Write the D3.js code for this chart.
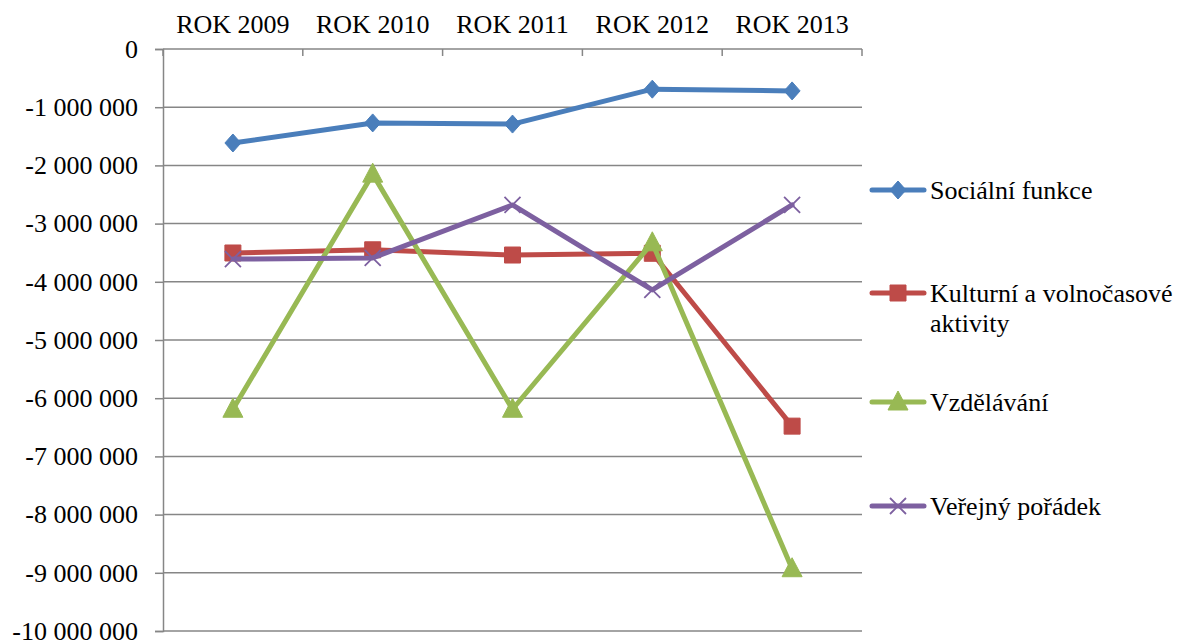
<!DOCTYPE html>
<html>
<head>
<meta charset="utf-8">
<script src="https://cdn.jsdelivr.net/npm/d3@7"></script>
<style>
  body { margin: 0; background: #fff; }
  svg text { font-family: "Liberation Serif", "Times New Roman", serif; fill: #000; }
</style>
</head>
<body>
<div id="chart"></div>
<script>
let years = ["ROK 2009", "ROK 2010", "ROK 2011", "ROK 2012", "ROK 2013"]
let yTicks = [0, -1000000, -2000000, -3000000, -4000000, -5000000, -6000000, -7000000, -8000000, -9000000, -10000000]

let socialni = [-1615000, -1270000, -1290000, -690000, -720000]
let kulturni = [-3505000, -3450000, -3540000, -3510000, -6480000]
let vzdelavani = [-6190000, -2150000, -6190000, -3330000, -8930000]
let verejny = [-3610000, -3590000, -2680000, -4140000, -2680000]

let seriesNames = ["Sociální funkce", "Kulturní a volnočasové aktivity", "Vzdělávání", "Veřejný pořádek"]
let seriesColors = ["#4A7EBB", "#BE4B48", "#98B954", "#7D60A0"]
let seriesMarkers = ["diamond", "square", "triangle", "cross"]

let width = 1179, height = 644
let plotLeft = 163, plotRight = 862, plotTop = 49, plotBottom = 631

let series = [socialni, kulturni, vzdelavani, verejny].map(function(vals, i){
  return { name: seriesNames[i], color: seriesColors[i], marker: seriesMarkers[i], values: vals }
})

let svg = d3.select("#chart").append("svg")
  .attr("width", width)
  .attr("height", height)

let x = d3.scaleBand().domain(years).range([plotLeft, plotRight])
let y = d3.scaleLinear().domain([-10000000, 0]).range([plotBottom, plotTop])

let fmt = function(v){
  return d3.format(",")(v).replace(/,/g, " ").replace("−", "-")
}

// gridlines
svg.append("g")
  .selectAll("line")
  .data(yTicks)
  .enter().append("line")
  .attr("x1", plotLeft).attr("x2", plotRight)
  .attr("y1", function(d){ return y(d) })
  .attr("y2", function(d){ return y(d) })
  .attr("stroke", "#868686")
  .attr("stroke-width", 1.5)

// y axis
let yAxis = svg.append("g")
  .attr("transform", "translate(" + plotLeft + ",0)")
  .call(d3.axisLeft(y).tickValues(yTicks).tickSize(8).tickPadding(17).tickFormat(fmt))
yAxis.attr("font-family", null)
yAxis.select(".domain").attr("stroke", "#868686").attr("stroke-width", 1.5)
yAxis.selectAll(".tick line").attr("stroke", "#868686").attr("stroke-width", 1.5)
yAxis.selectAll("text").style("font-size", "26px").attr("fill", "#000")

// x axis at top (zero line), labels above
let xAxis = svg.append("g")
  .attr("transform", "translate(0," + plotTop + ")")
  .call(d3.axisTop(x).tickSize(0).tickPadding(16))
xAxis.attr("font-family", null)
xAxis.select(".domain").remove()
xAxis.selectAll("text").style("font-size", "26px").attr("fill", "#000")

// tick marks between categories, pointing down
let bounds = years.map(function(d){ return x(d) }).concat([plotRight])
svg.append("g")
  .selectAll("line")
  .data(bounds)
  .enter().append("line")
  .attr("x1", function(d){ return d }).attr("x2", function(d){ return d })
  .attr("y1", plotTop).attr("y2", plotTop + 7)
  .attr("stroke", "#868686")
  .attr("stroke-width", 1.5)

function markerPath(type){
  if (type == "diamond") return "M0,-9L8,0L0,9L-8,0Z"
  if (type == "square") return "M-8,-8H8V8H-8Z"
  if (type == "triangle") return "M0,-11L10,8H-10Z"
  return "M-8,-8L8,8M-8,8L8,-8"
}

function drawMarker(g, s){
  if (s.marker == "cross"){
    g.append("path").attr("d", markerPath(s.marker))
      .attr("fill", "none").attr("stroke", s.color).attr("stroke-width", 1.8)
  } else {
    g.append("path").attr("d", markerPath(s.marker))
      .attr("fill", s.color).attr("stroke", s.color).attr("stroke-width", 1)
  }
}

let line = d3.line()
  .x(function(d, i){ return x(years[i]) + x.bandwidth() / 2 })
  .y(function(d){ return y(d) })

let plot = svg.append("g")

series.forEach(function(s){
  let g = plot.append("g")
  g.append("path")
    .datum(s.values)
    .attr("d", line)
    .attr("fill", "none")
    .attr("stroke", s.color)
    .attr("stroke-width", 5)
    .attr("stroke-linejoin", "round")
    .attr("stroke-linecap", "round")
  s.values.forEach(function(v, i){
    let m = g.append("g")
      .attr("transform", "translate(" + (x(years[i]) + x.bandwidth() / 2) + "," + y(v) + ")")
    drawMarker(m, s)
  })
})

// legend
let legendY = [190, 293, 402, 506]
series.forEach(function(s, i){
  let lg = svg.append("g").attr("transform", "translate(0," + legendY[i] + ")")
  lg.append("line")
    .attr("x1", 872).attr("x2", 924)
    .attr("y1", 0).attr("y2", 0)
    .attr("stroke", s.color)
    .attr("stroke-width", 5)
    .attr("stroke-linecap", "round")
  let m = lg.append("g").attr("transform", "translate(898,0)")
  drawMarker(m, s)
  let t = lg.append("text")
    .attr("x", 930)
    .attr("y", 0)
    .attr("dy", "0.35em")
    .style("font-size", "26px")
  if (i == 1){
    t.append("tspan").attr("x", 930).text("Kulturní a volnočasové")
    t.append("tspan").attr("x", 930).attr("dy", 30).text("aktivity")
  } else {
    t.text(s.name)
  }
})
</script>
</body>
</html>
